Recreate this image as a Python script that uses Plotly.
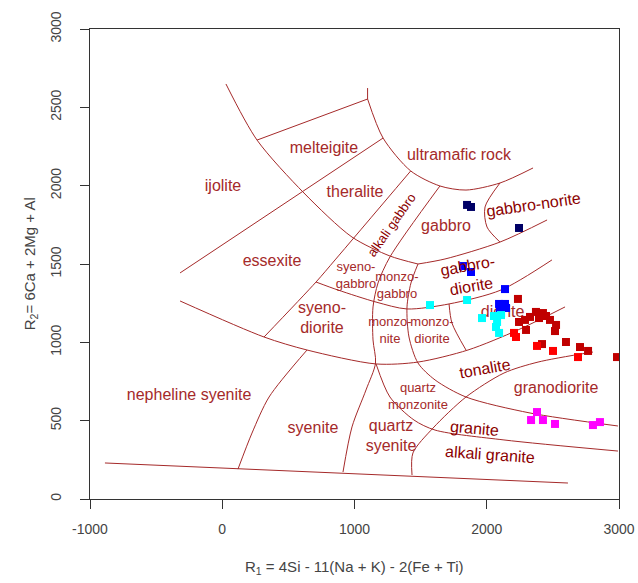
import plotly.graph_objects as go

# ---------------- data (R1, R2) ----------------
navy_r1 = [1851, 1881, 2244]
navy_r2 = [1877, 1864, 1730]

blue_r1 = [1820, 1881, 2138, 2093, 2138, 2100, 2146]
blue_r2 = [1487, 1449, 1340, 1245, 1245, 1219, 1219]

cyan_r1 = [1571, 1851, 1964, 2055, 2108, 2078, 2070, 2093]
cyan_r2 = [1238, 1270, 1155, 1168, 1174, 1130, 1098, 1060]

darkred_r1 = [2236, 2244, 2289, 2327, 2372, 2425, 2478, 2524, 2516, 2297, 2418, 2599, 2705, 2766, 2985, 2395, 2448]
darkred_r2 = [1277, 1130, 1143, 1162, 1194, 1187, 1143, 1111, 1072, 1079, 989, 1002, 970, 945, 906, 1155, 1168]

red_r1 = [2206, 2221, 2380, 2501, 2690]
red_r2 = [1060, 1034, 977, 945, 906]

magenta_r1 = [2380, 2335, 2425, 2516, 2803, 2856]
magenta_r2 = [555, 504, 504, 479, 472, 491]

# ---------------- field boundaries ----------------
boundaries = {
    "arcA": ([28, 263, 618, 981, 1268, 1480], [2649, 2291, 1953, 1672, 1551, 1500], "spline"),
    "ultra_tick": ([1099, 1099], [2623, 2553], "linear"),
    "ultramafic": ([1099, 1216, 1425, 1646, 1843, 2100, 2350], [2553, 2304, 2094, 1998, 1972, 2017, 2113], "spline"),
    "melteigite_top": ([263, 1099], [2291, 2553], "linear"),
    "ijolite_essexite": ([-319, 1216], [1443, 2304], "linear"),
    "alkgab_left": ([1425, 853, 709, 316], [2094, 1526, 1385, 1034], "spline"),
    "alkgab_right": ([1646, 1268, 1178, 1140, 1140, 1159, 1087, 981, 913],
                     [1998, 1545, 1379, 1226, 1015, 868, 696, 460, 172], "spline"),
    "gabbronorite": ([2100, 1987, 2002, 2100], [2017, 1864, 1736, 1640], "spline"),
    "gabbro_lower": ([1480, 1684, 2100, 2456], [1500, 1532, 1640, 1781], "spline"),
    "arcC": ([1480, 1427, 1397, 1412, 1480, 1609, 1843, 2327, 2992],
             [1500, 1379, 1226, 1034, 868, 760, 651, 549, 466], "spline"),
    "diorite_upper": ([709, 875, 1163, 1397, 1715, 2108, 2493], [1385, 1334, 1257, 1213, 1245, 1334, 1526], "spline"),
    "monzodiorite": ([1715, 1737, 1843], [1245, 1123, 951], "spline"),
    "long_curve": ([-319, 316, 641, 1163, 1480, 1858, 2236, 2592], [1264, 1034, 951, 862, 874, 951, 1079, 1226], "spline"),
    "syenite": ([641, 354, 225, 119], [951, 651, 421, 191], "spline"),
    "granite_lower": ([1163, 1268, 1450, 1609, 2130, 2992], [862, 651, 504, 440, 377, 306], "spline"),
    "qsyenite": ([1435, 1442, 1594, 1843, 2130, 2388, 2803], [153, 294, 453, 651, 804, 874, 938], "spline"),
    "bottom": ([-887, 2614], [230, 102], "linear"),
}

# ---------------- field labels ----------------
flat_labels = [
    ("melteigite", 769, 2234, 16),
    ("ultramafic rock", 1790, 2189, 16),
    ("ijolite", 6, 1991, 16),
    ("theralite", 1004, 1953, 16),
    ("gabbro", 1692, 1736, 16),
    ("essexite", 376, 1513, 16),
    ("syeno-<br>gabbro", 1011, 1423, 13),
    ("monzo-<br>gabbro", 1321, 1360, 13),
    ("syeno-<br>diorite", 754, 1149, 16),
    ("monzo-<br>nite", 1268, 1072, 13),
    ("monzo-<br>diorite", 1586, 1072, 13),
    ("diorite", 2120, 1190, 16),
    ("quartz<br>monzonite", 1480, 651, 13),
    ("granodiorite", 2524, 702, 16),
    ("nepheline syenite", -251, 657, 16),
    ("syenite", 686, 447, 16),
    ("quartz<br>syenite", 1276, 396, 16),
]
rot_labels = [
    ("alkali gabbro", 1284, 1749, 13, -55),
    ("gabbro-norite", 2357, 1877, 16, -8),
    ("gabbro-<br>diorite", 1873, 1423, 16, -10),
    ("tonalite", 1987, 836, 16, -10),
    ("granite", 1911, 447, 16, 5),
    ("alkali granite", 2025, 281, 16, 4),
]

x_ticks = [-1000, 0, 1000, 2000, 3000]
x_tick_text = ["-1000", "0", "1000", "2000", "3000"]
y_ticks = [0, 500, 1000, 1500, 2000, 2500, 3000]

LINE_COL = "#A52A2A"
TEXT_COL = "#A52A2A"
FONT = "Liberation Sans, Arial, sans-serif"

fig = go.Figure()

for name, (bx, by, shape) in boundaries.items():
    fig.add_trace(go.Scatter(x=bx, y=by, mode="lines",
                             line=dict(color=LINE_COL, width=1, shape=shape, smoothing=0.8),
                             hoverinfo="skip", showlegend=False))

fig.add_trace(go.Scatter(
    x=[l[1] for l in flat_labels], y=[l[2] for l in flat_labels],
    text=[l[0] for l in flat_labels], mode="text",
    textfont=dict(family=FONT, size=[l[3] for l in flat_labels], color=TEXT_COL),
    hoverinfo="skip", showlegend=False))

for lab, x, y, s, ang in rot_labels:
    fig.add_annotation(x=x, y=y, text=lab, showarrow=False, textangle=ang,
                       font=dict(family=FONT, size=s, color="#8B0000"))

groups = [
    (navy_r1, navy_r2, "#000066"),
    (blue_r1, blue_r2, "#0000FF"),
    (cyan_r1, cyan_r2, "#00FFFF"),
    (darkred_r1, darkred_r2, "#C00000"),
    (red_r1, red_r2, "#FF0000"),
    (magenta_r1, magenta_r2, "#FF00FF"),
]
for gx, gy, col in groups:
    fig.add_trace(go.Scatter(x=gx, y=gy, mode="markers",
                             marker=dict(symbol="square", size=8, color=col, line=dict(width=0)),
                             showlegend=False))

axis_common = dict(showline=True, linecolor="#333333", linewidth=1, mirror=True,
                   ticks="outside", ticklen=9, tickcolor="#333333", showgrid=False,
                   zeroline=False, automargin=False,
                   tickfont=dict(family=FONT, size=14, color="#444444"))

fig.update_xaxes(range=[-1000, 3000], tickvals=x_ticks, ticktext=x_tick_text,
                 ticklabelstandoff=8, **axis_common)
fig.update_yaxes(range=[0, 3000], tickvals=y_ticks, tickangle=-90, ticklabelstandoff=13, **axis_common)

fig.add_annotation(xref="paper", yref="paper", x=0.5, y=-0.145, yanchor="middle",
                   text="R<sub>1</sub> = 4Si - 11(Na + K) - 2(Fe + Ti)", showarrow=False,
                   font=dict(family=FONT, size=15, color="#444444"))
fig.add_annotation(xref="paper", yref="paper", x=-0.113, xanchor="center", y=0.5,
                   text="R<sub>2</sub>= 6Ca + 2Mg + Al", showarrow=False, textangle=-90,
                   font=dict(family=FONT, size=15, color="#444444"))

fig.update_layout(width=638, height=583, margin=dict(l=90, r=19, t=29, b=84, autoexpand=False),
                  plot_bgcolor="white", paper_bgcolor="white", hovermode=False)

fig.write_html("out.html", config={"displayModeBar": False, "staticPlot": True},
               post_script="document.body.style.margin='0';document.body.style.overflow='hidden';")
